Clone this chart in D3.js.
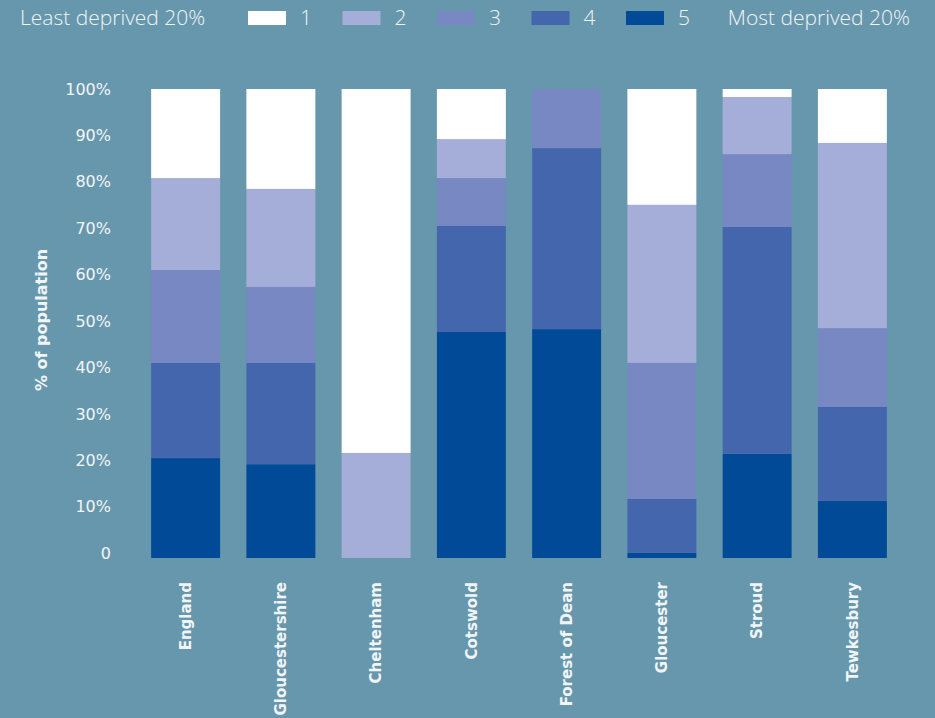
<!DOCTYPE html>
<html>
<head>
<meta charset="utf-8">
<script src="https://cdn.jsdelivr.net/npm/d3@7"></script>
<style>
  html, body { margin: 0; padding: 0; background: #6797ad; }
  svg { display: block; }
</style>
</head>
<body>
<div id="chart"></div>
<script>
const width = 935;
const height = 718;

// areas along the x axis
const areas = ["England", "Gloucestershire", "Cheltenham", "Cotswold", "Forest of Dean", "Gloucester", "Stroud", "Tewkesbury"];
// quintile keys, 1 = least deprived, 5 = most deprived
const quintiles = ["1", "2", "3", "4", "5"];
// % of population in each quintile, per area
const q1 = [19.0, 21.3, 77.6, 10.7, 0, 24.7, 1.7, 11.5];
const q2 = [19.6, 20.9, 22.4, 8.3, 0, 33.7, 12.2, 39.5];
const q3 = [19.8, 16.2, 0, 10.2, 12.6, 29.0, 15.5, 16.8];
const q4 = [20.3, 21.6, 0, 22.6, 38.6, 11.5, 48.4, 20.0];
const q5 = [21.3, 20.0, 0, 48.2, 48.8, 1.1, 22.2, 12.2];
const yTicks = [0, 10, 20, 30, 40, 50, 60, 70, 80, 90, 100];

const colors = ["#ffffff", "#a5aed8", "#7788c2", "#4466ad", "#004a98"];
const textColor = "#f2f5f7";

// table for d3.stack, bottom of the stack is quintile 5
const table = areas.map((a, i) => ({area: a, "1": q1[i], "2": q2[i], "3": q3[i], "4": q4[i], "5": q5[i]}));
const stackKeys = quintiles.slice().reverse();
const series = d3.stack().keys(stackKeys)(table);

const color = d3.scaleOrdinal(quintiles, colors);

const x = d3.scaleBand(areas, [138, 900]).paddingInner(0.276).paddingOuter(0.138);
const y = d3.scaleLinear([0, 100], [558, 89]);

const svg = d3.select("#chart").append("svg")
    .attr("width", width)
    .attr("height", height)
    .attr("viewBox", [0, 0, width, height]);

svg.append("rect")
    .attr("width", width)
    .attr("height", height)
    .attr("fill", "#6797ad");

// bars
svg.append("g")
    .selectAll("g")
    .data(series)
    .join("g")
    .attr("fill", d => color(d.key))
    .selectAll("rect")
    .data(d => d)
    .join("rect")
    .attr("x", d => x(d.data.area))
    .attr("width", x.bandwidth())
    .attr("y", d => y(d[1]))
    .attr("height", d => Math.max(0, y(d[0]) - y(d[1])));

// y axis, labels only
const yAxis = d3.axisLeft(y)
    .tickValues(yTicks)
    .tickFormat(d => d === 0 ? "0" : d + "%")
    .tickSize(0)
    .tickPadding(0);

svg.append("g")
    .attr("transform", "translate(111,0)")
    .call(yAxis)
    .call(g => g.select(".domain").remove())
    .call(g => g.selectAll(".tick text")
        .attr("fill", textColor)
        .attr("dy", d => (0.32 - 0.3 * (1 - d / 100)) + "em")
        .attr("font-family", "'DejaVu Sans', sans-serif")
        .attr("font-size", 16));

svg.append("text")
    .attr("transform", "translate(47,320) rotate(-90)")
    .attr("text-anchor", "middle")
    .attr("fill", textColor)
    .attr("font-family", "'DejaVu Sans', sans-serif")
    .attr("font-weight", "bold")
    .attr("font-size", 16)
    .text("% of population");

// x axis, rotated labels
const xAxis = d3.axisBottom(x).tickSize(0).tickPadding(0);

svg.append("g")
    .attr("transform", "translate(0,582)")
    .call(xAxis)
    .call(g => g.select(".domain").remove())
    .call(g => g.selectAll(".tick text")
        .attr("fill", textColor)
        .attr("font-family", "'DejaVu Sans', sans-serif")
        .attr("font-weight", "bold")
        .attr("font-size", 15)
        .attr("text-anchor", "end")
        .attr("transform", "rotate(-90)")
        .attr("x", 0)
        .attr("y", 0)
        .attr("dy", "0.35em"));

// legend
const legend = svg.append("g")
    .attr("font-family", "'Open Sans', sans-serif")
    .attr("font-weight", 300)
    .attr("font-size", 21)
    .attr("fill", textColor);

legend.append("text")
    .attr("x", 20)
    .attr("y", 18)
    .attr("dy", "0.35em")
    .text("Least deprived 20%");

const lx = d3.scalePoint(quintiles, [248, 626]);

const item = legend.selectAll("g.item")
    .data(quintiles)
    .join("g")
    .attr("class", "item")
    .attr("transform", d => `translate(${lx(d)},0)`);

item.append("rect")
    .attr("y", 11)
    .attr("width", 38)
    .attr("height", 14)
    .attr("fill", d => color(d));

item.append("text")
    .attr("x", 52)
    .attr("y", 18)
    .attr("dy", "0.35em")
    .text(d => d);

legend.append("text")
    .attr("x", 910)
    .attr("y", 18)
    .attr("dy", "0.35em")
    .attr("text-anchor", "end")
    .text("Most deprived 20%");
</script>
</body>
</html>
